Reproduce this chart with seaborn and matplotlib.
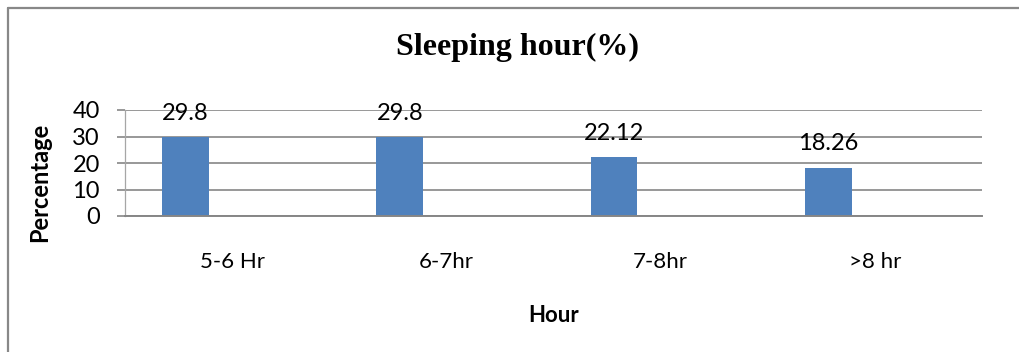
import matplotlib
matplotlib.use("Agg")
import matplotlib.pyplot as plt
from matplotlib.lines import Line2D
import pandas as pd
import seaborn as sns

# Data
hours = ["5-6 Hr", "6-7hr", "7-8hr", ">8 hr"]
percentages = [29.8, 29.8, 22.12, 18.26]
series_name = "Percentage"
y_ticks = [0, 10, 20, 30, 40]

df = pd.DataFrame({"hour": hours, "value": percentages, "series": series_name})

sns.set_theme(style="white")
plt.rcParams["font.family"] = ["Lato", "DejaVu Sans"]
plt.rcParams["text.color"] = "black"
plt.rcParams["axes.labelcolor"] = "black"
plt.rcParams["xtick.color"] = "black"
plt.rcParams["ytick.color"] = "black"

W, H = 1019, 352
fig = plt.figure(figsize=(W / 100, H / 100), dpi=100)
fig.patch.set_facecolor("white")

# plot area in pixel terms
left, right, top, bottom = 125, 982, 110, 216
ax = fig.add_axes([left / W, (H - bottom) / H, (right - left) / W, (bottom - top) / H])

grid_col = "#868686"
bar_col = "#4F81BD"

sns.barplot(
    data=df, x="hour", y="value", hue="series",
    hue_order=[series_name, "empty"],
    palette={series_name: bar_col, "empty": bar_col},
    width=0.87, gap=0.5, dodge=True, order=hours, saturation=1,
    linewidth=0, legend=False, ax=ax, errorbar=None,
)

ax.set_xlim(-0.5, len(hours) - 0.5)
ax.set_ylim(0, 40)
ax.set_yticks(y_ticks)
ax.set_yticklabels([str(t) for t in y_ticks])

ax.yaxis.grid(True, color=grid_col, linewidth=1.2)
ax.xaxis.grid(False)
ax.set_axisbelow(True)

for s in ["top", "right"]:
    ax.spines[s].set_visible(False)
ax.spines["left"].set_color("#a6a6a6")
ax.spines["left"].set_linewidth(0.9)
ax.spines["bottom"].set_color(grid_col)
ax.spines["bottom"].set_linewidth(1.4)

ax.tick_params(axis="y", length=6, width=1.2, color=grid_col, pad=12,
               labelsize=17, labelcolor="black", left=True)
ax.tick_params(axis="x", length=0, pad=26, labelsize=16, labelcolor="black")

# value labels above the bars
for bar, val in zip(ax.containers[0], percentages):
    ax.annotate(f"{val:g}", xy=(bar.get_x() + bar.get_width() / 2, bar.get_height()),
                xytext=(0, 17), textcoords="offset points",
                ha="center", va="center", fontsize=17, color="black")

ax.set_xlabel("Hour", fontsize=16, fontweight="bold", color="black")
ax.xaxis.set_label_coords((554 - left) / (right - left), (bottom - 315) / (bottom - top))
ax.xaxis.label.set_va("center")
ax.set_ylabel("Percentage", fontsize=17, fontweight="bold", color="black")
ax.yaxis.set_label_coords((40 - left) / (right - left), (bottom - 182) / (bottom - top))
ax.yaxis.label.set_va("center")

fig.text(518 / W, 1 - 47 / H, "Sleeping hour(%)", ha="center", va="center", color="black",
         fontsize=23, fontweight="bold", family=["Liberation Serif", "DejaVu Serif"])

# chart frame (left and top edges)
fig.add_artist(Line2D([7.5 / W, 7.5 / W], [0, 1 - 8 / H], transform=fig.transFigure,
                      color="#888888", linewidth=1.6))
fig.add_artist(Line2D([7.5 / W, 1], [1 - 8 / H, 1 - 8 / H], transform=fig.transFigure,
                      color="#888888", linewidth=1.6))

fig.savefig("out.png", dpi=100, facecolor="white")
